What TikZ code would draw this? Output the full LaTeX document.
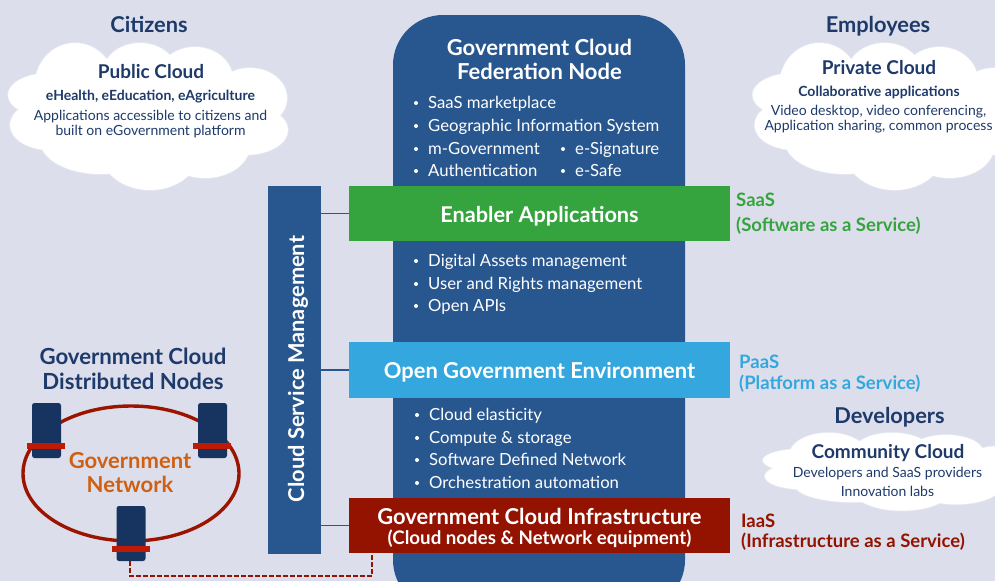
\documentclass[tikz,border=0pt]{standalone}
\usepackage{fontspec}
\setmainfont{Lato}
\usetikzlibrary{calc}
\definecolor{bgc}{HTML}{DCDFEB}
\definecolor{panel}{HTML}{28578F}
\definecolor{greenb}{HTML}{35A43F}
\definecolor{skyb}{HTML}{34A7DE}
\definecolor{redb}{HTML}{941200}
\definecolor{navy}{HTML}{1E3A6B}
\definecolor{nodec}{HTML}{17335F}
\definecolor{barc}{HTML}{BE1A06}
\definecolor{ringc}{HTML}{9B1400}
\definecolor{orangec}{HTML}{CF5F12}
\definecolor{edgec}{HTML}{E6E9F1}
\newcommand{\fs}[1]{\fontsize{#1}{#1}\selectfont}
\newcommand{\cloudpath}{%
 (75,85) ellipse (40 and 42) (140,75) ellipse (38 and 32) (195,80) ellipse (38 and 33)
 (250,98) ellipse (37 and 30) (245,130) ellipse (43 and 25) (50,95) ellipse (42 and 22)
 (50,125) ellipse (40 and 25) (100,140) ellipse (60 and 34) (150,150) ellipse (50 and 40)
 (205,145) ellipse (45 and 33) (150,110) ellipse (100 and 55)}
\newcommand{\cloudshape}{%
 \draw[edgec,line width=1.6pt] \cloudpath;
 \fill[white] \cloudpath;}
\tikzset{
 x=1pt,y=-1pt,
 txt/.style={inner sep=0pt,align=center,text=navy},
 head/.style={txt,font=\fs{21.8}\bfseries,text=navy},
 cloudt/.style={txt,font=\fs{19}\bfseries},
 clouds/.style={txt,font=\fs{14}\bfseries},
 cloudn/.style={txt,font=\fs{14}},
 layerbox/.style={inner sep=0pt,minimum width=381pt,minimum height=55.5pt,text=white,align=center},
 bul/.style={inner sep=0pt,anchor=base west,text=white,font=\fs{16.7}},
 link/.style={draw=panel,line width=1.4pt},
 srv/.style={fill=nodec,rounded corners=2.5pt,inner sep=0pt,minimum width=29pt,minimum height=55pt},
 srvbar/.style={fill=barc,inner sep=0pt,minimum width=38pt,minimum height=6pt},
 lab/.style={inner sep=0pt,anchor=west,font=\fs{18.5}\bfseries},
}
\begin{document}
\begin{tikzpicture}
\useasboundingbox (0,0) rectangle (995,581);
\clip (0,0) rectangle (995,581);
\fill[bgc] (0,0) rectangle (995,581);
% clouds
\cloudshape
\begin{scope}[shift={(744.5,0)}]\cloudshape\end{scope}
\begin{scope}[shift={(755,410)},yscale=0.53,xscale=0.98]\cloudshape\end{scope}
% central panel
\fill[panel,rounded corners=50pt] (393,15) rectangle (685,610);
\node[txt,font=\fs{22}\bfseries,text=white] (fedt) at (539.5,59.5) {Government Cloud\\[2pt]Federation Node};
\foreach \n/\yy/\tt in {a/108/SaaS marketplace,b/131/Geographic Information System,c/154/m-Government,d/176/Authentication,
 e/266/Digital Assets management,f/289/User and Rights management,g/311/Open APIs}{
 \node[bul] (b\n) at (428,\yy) {\tt};
 \fill[white] ($(b\n.base west)+(-12,-5)$) circle (2);
}
\foreach \n/\yy/\tt in {c/154/e-Signature,d/176/e-Safe}{
 \node[bul] (r\n) at (575,\yy) {\tt};
 \fill[white] ($(r\n.base west)+(-12,-5)$) circle (2);
}
\foreach \n/\yy/\tt in {h/420/Cloud elasticity,i/443/Compute \& storage,j/465/Software Defined Network,k/488/Orchestration automation}{
 \node[bul] (b\n) at (429,\yy) {\tt};
 \fill[white] ($(b\n.base west)+(-12,-5)$) circle (2);
}
% layers
\node[layerbox,fill=greenb,font=\fs{21.7}\bfseries] (saas) at (539.5,213.5) {\raisebox{-9pt}[0pt][0pt]{Enabler Applications}};
\node[layerbox,fill=skyb,font=\fs{21.9}\bfseries] (paas) at (539.5,370) {\raisebox{-8.5pt}[0pt][0pt]{Open Government Environment}};
\node[layerbox,fill=redb] (iaas) at (539.5,525.5) {\rule{0pt}{21pt}{\fs{21.9}\bfseries Government Cloud Infrastructure}\\[5pt]{\fs{18.7}\bfseries (Cloud nodes \& Network equipment)}};
% management bar
\node[fill=panel,inner sep=0pt,minimum width=53pt,minimum height=368pt] (csm) at (294.5,370) {};
\node[rotate=90,text=white,inner sep=0pt,font=\fs{21.8}\bfseries] (csmt) at (298,369) {Cloud Service Management};
\coordinate (l1) at (csm.east |- saas.west);
\coordinate (l3) at (csm.east |- iaas.west);
\draw[link] (l1) -- (saas.west);
\draw[link] (csm.east |- paas.west) -- (paas.west);
\draw[link] (l3) -- (iaas.west);
% side labels
\node[lab,text=greenb] (s1) at (736,200) {SaaS};
\node[lab,text=greenb] (s2) at (736,226) {(Software as a Service)};
\node[lab,text=skyb] (p1) at (739,362) {PaaS};
\node[lab,text=skyb] (p2) at (739,384) {(Platform as a Service)};
\node[lab,text=redb] (i1) at (741,520.5) {IaaS};
\node[lab,text=redb] (i2) at (741,542) {(Infrastructure as a Service)};
% headings
\node[head] (cit) at (149,24) {Citizens};
\node[head] (emp) at (878,26) {Employees};
\node[head] (dev) at (889.5,417) {Developers};
\node[head,font=\fs{22.2}\bfseries] (dist) at (133,369) {Government Cloud\\[3pt]Distributed Nodes};
% cloud text
\node[cloudt] (pub) at (151,72) {Public Cloud};
\node[clouds] (pub2) at (150.5,97) {eHealth, eEducation, eAgriculture};
\node[cloudn] (pub3) at (150.5,124) {Applications accessible to citizens and\\[1.5pt]built on eGovernment platform};
\node[cloudt] (pri) at (879,68) {Private Cloud};
\node[clouds] (pri2) at (879,92) {Collaborative applications};
\node[cloudn] (pri3) at (878.5,119) {Video desktop, video conferencing,\\[1.5pt]Application sharing, common process};
\node[cloudt] (com) at (888,453) {Community Cloud};
\node[cloudn] (com2) at (887.5,474) {Developers and SaaS providers};
\node[cloudn] (com3) at (887.5,491.5) {Innovation labs};
% network
\draw[ringc,line width=3.4pt] (131,473.5) ellipse (108 and 67.5);
\node[srv] (n1) at (46.5,430.5) {};
\node[srv] (n2) at (212.5,430.5) {};
\node[srv] (n3) at (131,533.5) {};
\node[srvbar] (bar1) at (46,446) {};
\node[srvbar] (bar2) at (212,446) {};
\node[srvbar] (bar3) at (131,549) {};
\node[txt,text=orangec,font=\fs{22}\bfseries] (gn) at (130,473) {Government\\[2pt]Network};
\coordinate (dc) at ($(iaas.south west)+(23,0)$);
\coordinate (d1) at ($(n3.south)+(-1,0)$);
\draw[redb,line width=1.5pt,dash pattern=on 4.5pt off 2.5pt] (d1) -- (d1 |- 0,576) -- (dc |- 0,576) -- (dc);
\end{tikzpicture}
\end{document}
